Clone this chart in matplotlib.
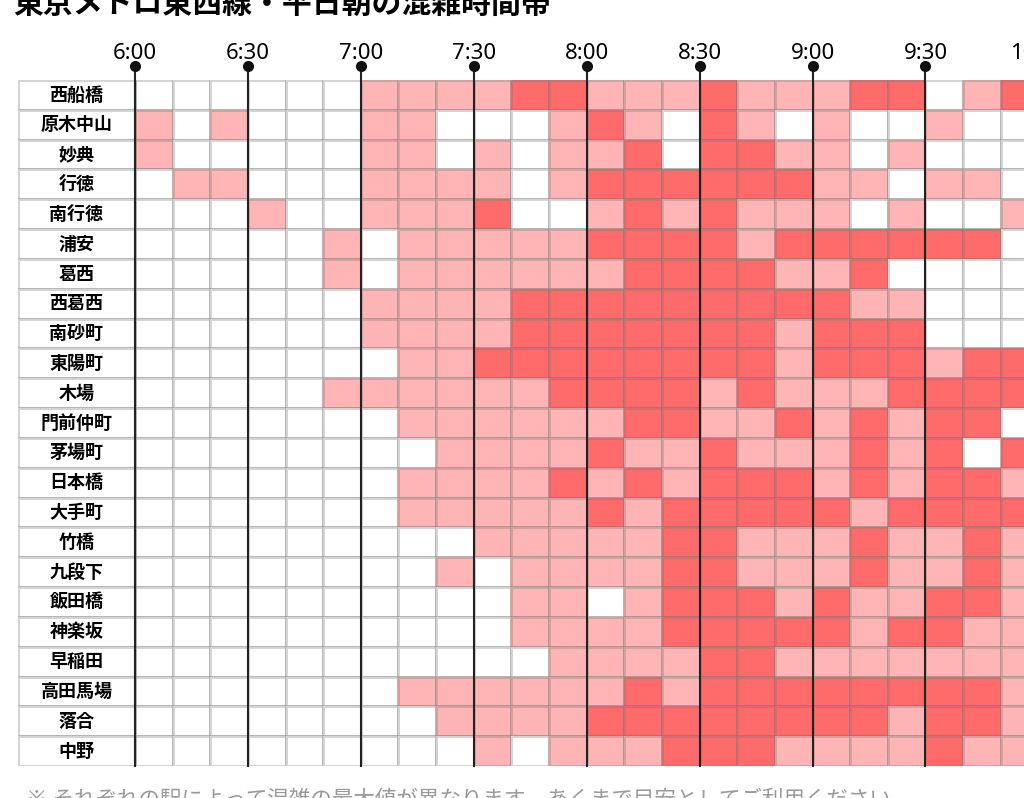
import numpy as np
import matplotlib.pyplot as plt
from matplotlib.colors import ListedColormap

plt.rcParams['font.family'] = ['Noto Sans CJK JP', 'DejaVu Sans']

title = '東京メトロ東西線・平日朝の混雑時間帯'
note = '※ それぞれの駅によって混雑の最大値が異なります。あくまで目安としてご利用ください。'

stations = ['西船橋', '原木中山', '妙典', '行徳', '南行徳', '浦安', '葛西', '西葛西',
            '南砂町', '東陽町', '木場', '門前仲町', '茅場町', '日本橋', '大手町', '竹橋',
            '九段下', '飯田橋', '神楽坂', '早稲田', '高田馬場', '落合', '中野']

# 10-minute slots starting 6:00 ; 0 = empty, 1 = busy, 2 = very busy
levels = [
    [0,0,0,0,0,0,1,1,1,1,2,2, 1,1,1,2,1,1,1,2,2,0,1,2],
    [1,0,1,0,0,0,1,1,0,0,0,1, 2,1,0,2,1,0,1,0,0,1,0,0],
    [1,0,0,0,0,0,1,1,0,1,0,1, 1,2,0,2,2,1,1,0,1,0,0,0],
    [0,1,1,0,0,0,1,1,1,1,0,1, 2,2,2,2,2,2,1,1,0,1,1,0],
    [0,0,0,1,0,0,1,1,1,2,0,0, 1,2,1,2,1,1,1,0,1,0,0,1],
    [0,0,0,0,0,1,0,1,1,1,1,1, 2,2,2,2,1,2,2,2,2,2,2,0],
    [0,0,0,0,0,1,0,1,1,1,1,1, 1,2,2,2,2,1,1,2,0,0,0,0],
    [0,0,0,0,0,0,1,1,1,1,2,2, 2,2,2,2,2,2,2,1,1,0,0,0],
    [0,0,0,0,0,0,1,1,1,1,2,2, 2,2,2,2,2,1,2,2,2,0,0,0],
    [0,0,0,0,0,0,0,1,1,2,2,2, 2,2,2,2,2,1,2,2,2,1,2,2],
    [0,0,0,0,0,1,1,1,1,1,1,2, 2,2,2,1,2,1,1,1,2,2,2,2],
    [0,0,0,0,0,0,0,1,1,1,1,1, 1,2,2,1,1,2,1,2,1,2,2,0],
    [0,0,0,0,0,0,0,0,1,1,1,1, 2,1,1,2,1,1,1,2,1,2,0,2],
    [0,0,0,0,0,0,0,1,1,1,1,2, 1,2,1,2,2,2,1,2,1,2,2,1],
    [0,0,0,0,0,0,0,1,1,1,1,1, 2,1,2,2,2,2,2,1,2,2,2,2],
    [0,0,0,0,0,0,0,0,0,1,1,1, 1,1,2,2,1,1,1,2,1,1,2,1],
    [0,0,0,0,0,0,0,0,1,0,1,1, 1,1,2,2,1,1,1,2,1,1,2,1],
    [0,0,0,0,0,0,0,0,0,0,1,1, 0,1,2,2,2,1,2,1,1,2,2,1],
    [0,0,0,0,0,0,0,0,0,0,1,1, 1,1,2,2,2,2,2,1,2,2,1,1],
    [0,0,0,0,0,0,0,0,0,0,0,1, 1,1,1,2,2,1,1,1,1,1,1,1],
    [0,0,0,0,0,0,0,1,1,1,1,1, 1,2,1,2,2,2,2,2,2,2,2,1],
    [0,0,0,0,0,0,0,0,1,1,1,1, 2,2,2,2,2,2,2,2,1,2,2,1],
    [0,0,0,0,0,0,0,0,0,1,0,1, 1,1,2,2,2,1,1,1,1,2,1,1],
]

time_labels = ['6:00', '6:30', '7:00', '7:30', '8:00', '8:30', '9:00', '9:30', '10:00']

W, H = 1024, 798
fig = plt.figure(figsize=(W / 100, H / 100), dpi=100)

cw = 37.64          # px per 10-minute column
lab_w = 117 / cw    # label column width in column units
left_px, top_px, bot_px = 18, 80, 766
right_px = 135 + 24 * cw
ax = fig.add_axes([left_px / W, 1 - bot_px / H, (right_px - left_px) / W, (bot_px - top_px) / H])

data = np.array(levels)
nrow, ncol = data.shape
cmap = ListedColormap(['#ffffff', '#ffb5b5', '#ff6b6b'])
edge = (0.45, 0.45, 0.45, 0.3)

ax.pcolormesh(np.arange(ncol + 1), np.arange(nrow + 1), data, cmap=cmap, vmin=0, vmax=2,
              edgecolors=edge, linewidth=1)
ax.pcolormesh([-lab_w, 0], np.arange(nrow + 1), np.zeros((nrow, 1)), cmap=cmap, vmin=0, vmax=2,
              edgecolors=edge, linewidth=1)

for i, name in enumerate(stations):
    ax.text(-lab_w / 2, i + 0.5, name, ha='center', va='center', fontsize=13, fontweight='bold')

row_px = (bot_px - top_px) / nrow
y_dot = -(top_px - 66) / row_px
y_lab = -(top_px - 59) / row_px
for k, lab in enumerate(time_labels):
    x = k * 3
    ax.plot([x, x], [y_dot, nrow], color='#222222', lw=1.5, clip_on=False, zorder=3)
    ax.plot(x, y_dot, 'o', ms=7, color='#111111', clip_on=False, zorder=4)
    ax.text(x, y_lab, lab, ha='center', va='baseline', fontsize=16, family=['Noto Sans', 'DejaVu Sans'])

ax.set_xlim(-lab_w, ncol)
ax.set_ylim(nrow, 0)
ax.axis('off')

fig.text(13 / W, 1 - 13 / H, title, fontsize=21.5, fontweight='bold', va='baseline')
fig.text(26 / W, 1 - 789 / H, note, fontsize=15.5, color='#9a9a9a', va='top')

fig.savefig('out.png', dpi=100)
